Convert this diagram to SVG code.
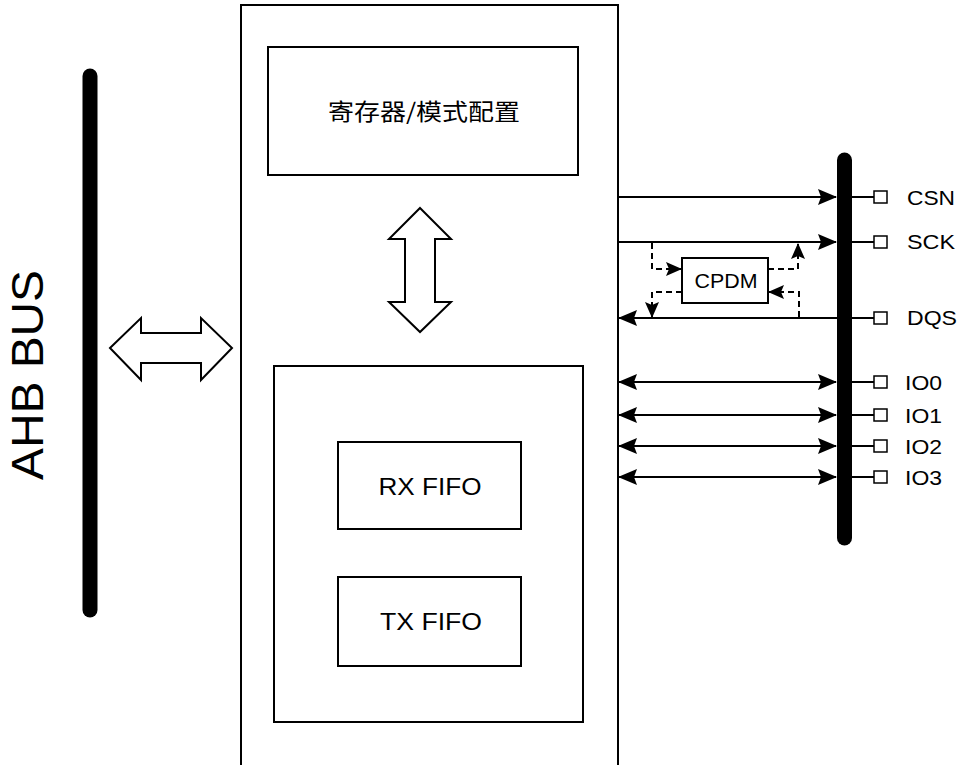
<svg xmlns="http://www.w3.org/2000/svg" width="961" height="765" viewBox="0 0 961 765">
<defs>
<style>
.box{fill:#fff;stroke:#000;stroke-width:2}
.ln{fill:none;stroke:#000;stroke-width:2}
.dash{fill:none;stroke:#000;stroke-width:2;stroke-dasharray:6,4}
.bus{fill:none;stroke:#000;stroke-width:15;stroke-linecap:round}
.hollow{fill:#fff;stroke:#000;stroke-width:2;stroke-linejoin:miter}
.pin{fill:#fff;stroke:#000;stroke-width:1.5}
text{font-family:"Liberation Sans",Arial,"Noto Sans CJK SC",sans-serif;fill:#000}
.cjk{font-family:"Noto Sans CJK SC","Liberation Sans",sans-serif}
</style>
<marker id="ah" viewBox="0 0 19 16" refX="18" refY="8" markerWidth="19" markerHeight="16" markerUnits="userSpaceOnUse" orient="auto-start-reverse">
<path d="M0,0 L19,8 L0,16 L3,8 z" fill="#000"/>
</marker>
<marker id="ahs" viewBox="0 0 16 14" refX="15" refY="7" markerWidth="16" markerHeight="14" markerUnits="userSpaceOnUse" orient="auto">
<path d="M0,0 L16,7 L0,14 L3,7 z" fill="#000"/>
</marker>
</defs>
<rect width="961" height="765" fill="#fff"/>

<g id="ahb-bus">
<line class="bus" x1="90" y1="76" x2="90" y2="610"/>
<text transform="translate(43,375) rotate(-90)" font-size="44" text-anchor="middle" textLength="210" lengthAdjust="spacingAndGlyphs">AHB BUS</text>
</g>

<g id="ahb-arrow">
<polygon class="hollow" points="110,348 141,318 141,333 201,333 201,318 232,348 201,380 201,363 141,363 141,380"/>
</g>

<g id="controller">
<rect class="box" x="241" y="5" width="377" height="790"/>
</g>

<g id="reg-config">
<rect class="box" x="268" y="47" width="310" height="128"/>
<text class="cjk" x="424" y="120" font-size="23" text-anchor="middle" textLength="192" lengthAdjust="spacingAndGlyphs">寄存器/模式配置</text>
</g>

<g id="internal-arrow">
<polygon class="hollow" points="420,208 451,239 435,239 435,302 451,302 420,332 389,302 405,302 405,239 389,239"/>
</g>

<g id="fifo-block">
<rect class="box" x="274" y="366" width="309" height="356"/>
</g>

<g id="rx-fifo">
<rect class="box" x="338" y="442" width="183" height="87"/>
<text x="430" y="495" font-size="24" text-anchor="middle" textLength="103" lengthAdjust="spacingAndGlyphs">RX FIFO</text>
</g>

<g id="tx-fifo">
<rect class="box" x="338" y="577" width="183" height="89"/>
<text x="431" y="630" font-size="24" text-anchor="middle" textLength="102" lengthAdjust="spacingAndGlyphs">TX FIFO</text>
</g>

<g id="cpdm">
<rect class="box" x="682" y="258" width="86" height="45"/>
<text x="726" y="288" font-size="20" text-anchor="middle" textLength="63" lengthAdjust="spacingAndGlyphs">CPDM</text>
</g>

<g id="spi-bus">
<line class="bus" x1="844.5" y1="160" x2="844.5" y2="538"/>
</g>

<g id="pins">
<line class="ln" x1="852" y1="197" x2="874" y2="197"/>
<rect class="pin" x="874" y="191" width="13" height="12"/>
<text x="907" y="205" font-size="21" textLength="48" lengthAdjust="spacingAndGlyphs">CSN</text>
<line class="ln" x1="852" y1="242" x2="874" y2="242"/>
<rect class="pin" x="874" y="236" width="13" height="12"/>
<text x="907" y="249" font-size="21" textLength="48" lengthAdjust="spacingAndGlyphs">SCK</text>
<line class="ln" x1="852" y1="318" x2="874" y2="318"/>
<rect class="pin" x="874" y="312" width="13" height="12"/>
<text x="907" y="325" font-size="21" textLength="50" lengthAdjust="spacingAndGlyphs">DQS</text>
<line class="ln" x1="852" y1="382" x2="874" y2="382"/>
<rect class="pin" x="874" y="376" width="13" height="12"/>
<text x="905" y="390" font-size="21" textLength="37" lengthAdjust="spacingAndGlyphs">IO0</text>
<line class="ln" x1="852" y1="415" x2="874" y2="415"/>
<rect class="pin" x="874" y="409" width="13" height="12"/>
<text x="905" y="423" font-size="21" textLength="37" lengthAdjust="spacingAndGlyphs">IO1</text>
<line class="ln" x1="852" y1="446" x2="874" y2="446"/>
<rect class="pin" x="874" y="440" width="13" height="12"/>
<text x="905" y="454" font-size="21" textLength="37" lengthAdjust="spacingAndGlyphs">IO2</text>
<line class="ln" x1="852" y1="477" x2="874" y2="477"/>
<rect class="pin" x="874" y="471" width="13" height="12"/>
<text x="905" y="485" font-size="21" textLength="37" lengthAdjust="spacingAndGlyphs">IO3</text>
</g>

<g id="connectors">
<line class="ln" x1="618" y1="197" x2="836" y2="197" marker-end="url(#ah)"/>
<line class="ln" x1="618" y1="242" x2="836" y2="242" marker-end="url(#ah)"/>
<line class="ln" x1="837" y1="318" x2="619" y2="318" marker-end="url(#ah)"/>
<line class="ln" x1="619" y1="382" x2="836" y2="382" marker-start="url(#ah)" marker-end="url(#ah)"/>
<line class="ln" x1="619" y1="415" x2="836" y2="415" marker-start="url(#ah)" marker-end="url(#ah)"/>
<line class="ln" x1="619" y1="446" x2="836" y2="446" marker-start="url(#ah)" marker-end="url(#ah)"/>
<line class="ln" x1="619" y1="477" x2="836" y2="477" marker-start="url(#ah)" marker-end="url(#ah)"/>
<path class="dash" d="M652,243 V269 H681" marker-end="url(#ahs)"/>
<path class="dash" d="M768,269 H798 V244" marker-end="url(#ahs)"/>
<path class="dash" d="M682,292 H652 V317" marker-end="url(#ahs)"/>
<path class="dash" d="M799,317 V292 H769" marker-end="url(#ahs)"/>
</g>
</svg>
